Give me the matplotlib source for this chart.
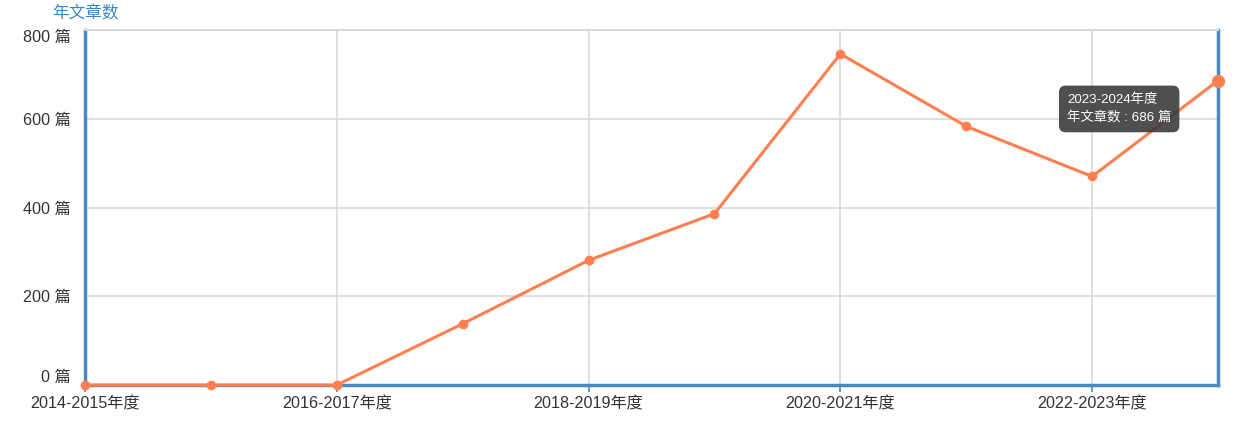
import matplotlib
matplotlib.use('Agg')
import matplotlib.pyplot as plt

plt.rcParams['font.family'] = ['Liberation Sans', 'Noto Sans CJK SC', 'DejaVu Sans']

# Data
years = ['2014-2015年度', '2015-2016年度', '2016-2017年度', '2017-2018年度',
         '2018-2019年度', '2019-2020年度', '2020-2021年度', '2021-2022年度',
         '2022-2023年度', '2023-2024年度']
counts = [0, 0, 0, 138, 281, 386, 746, 583, 470, 686]
y_ticks = [0, 200, 400, 600, 800]

line_color = '#ff7f50'
axis_color = '#4a8ac4'
grid_color = '#d9d9d9'
text_color = '#333333'

fig = plt.figure(figsize=(12.54, 4.32), dpi=100)
ax = fig.add_axes([85 / 1254, 1 - 385 / 432, (1218 - 85) / 1254, (385 - 30) / 432])

x = list(range(len(years)))
ax.plot(x, counts, color=line_color, linewidth=2.2, marker='o', markersize=6,
        clip_on=False, zorder=5)
# highlighted last point (hover state)
ax.plot(x[-1], counts[-1], 'o', color=line_color, markersize=8.5, clip_on=False, zorder=6)

ax.set_xlim(0, len(years) - 1)
ax.set_ylim(0, 800)

# category labels every other year
ax.set_xticks(x[::2])
ax.set_xticklabels(years[::2], fontsize=11.6, color=text_color)
ax.set_yticks(y_ticks)
ylabels = ax.set_yticklabels([f'{v} 篇' for v in y_ticks], fontsize=11.6, color=text_color)
ylabels[0].set_va('bottom')
ylabels[-1].set_va('top')

ax.tick_params(axis='x', length=5, color=axis_color, width=1.2, pad=3)
ax.tick_params(axis='y', length=0, pad=10)

ax.grid(True, color=grid_color, linewidth=1.2)
ax.set_axisbelow(True)

for side in ['left', 'right', 'bottom']:
    ax.spines[side].set_color(axis_color)
    ax.spines[side].set_linewidth(2.5)
ax.spines['top'].set_color(grid_color)
ax.spines['top'].set_linewidth(1.5)

fig.text(52 / 1254, 1 - 13 / 432, '年文章数', fontsize=12, color='#3a87c8',
         ha='left', va='center')

# tooltip for the last point
ax.annotate(f'{years[-1]}\n年文章数 : {counts[-1]} 篇',
            xy=(x[-1], counts[-1]), xytext=(-151, -13), textcoords='offset pixels',
            ha='left', va='top', fontsize=9.6, color='white', linespacing=1.5,
            bbox=dict(boxstyle='round,pad=0.6,rounding_size=0.5',
                      fc='#3c3c3c', ec='none', alpha=0.9),
            zorder=10, annotation_clip=False)

fig.savefig('out.png', dpi=100)
